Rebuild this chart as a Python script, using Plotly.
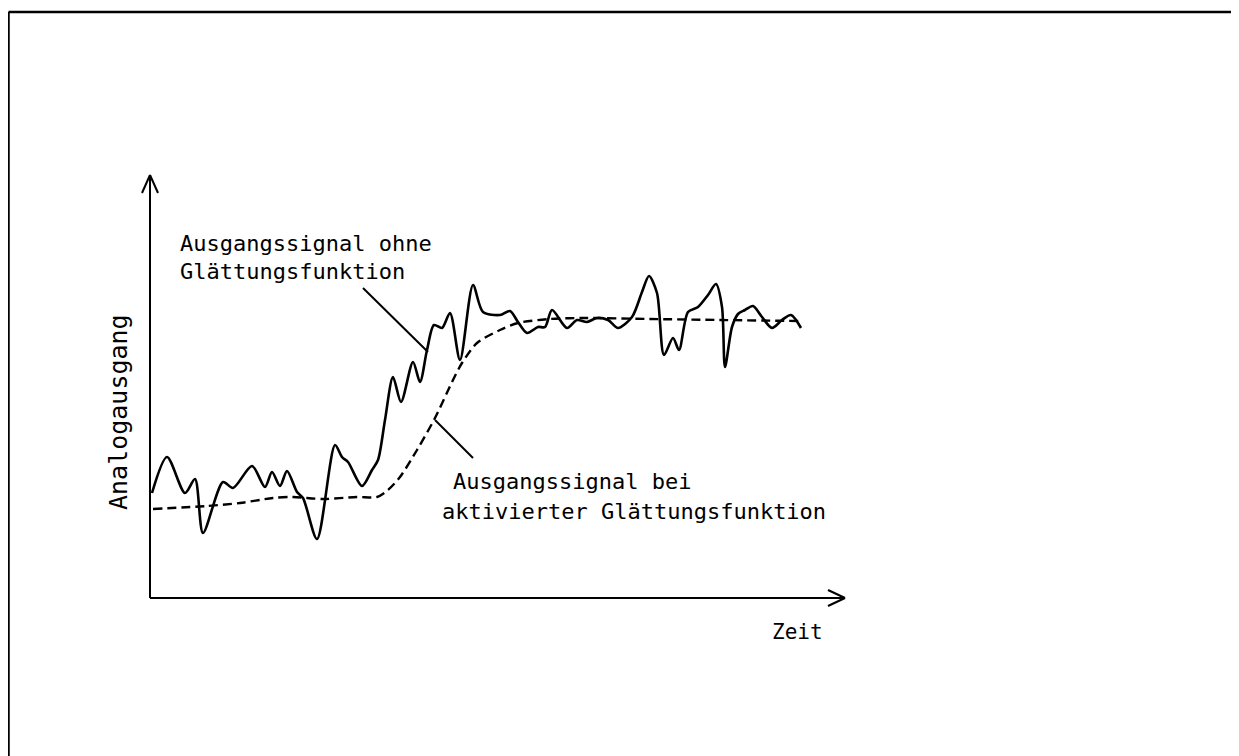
import plotly.graph_objects as go

# Raw signal (without smoothing)
t_raw = [2, 17, 35, 45, 53, 73, 83, 102, 115, 122, 130, 137, 147, 153, 167, 185, 192, 198,
         212, 222, 228, 235, 243, 251, 263, 270, 277, 284, 292, 300, 310, 323, 333, 350,
         360, 368, 377, 388, 395, 402, 417, 427, 437, 447, 458, 468, 482, 492, 499, 507,
         514, 523, 529, 538, 548, 558, 566, 572, 575, 582, 588, 595, 603, 612, 622, 632,
         641, 651]
v_raw = [105, 141, 105, 119, 65, 116, 110, 132, 111, 126, 112, 127, 106, 100, 59, 153, 141, 136,
         112, 128, 138, 178, 221, 196, 236, 216, 248, 273, 270, 285, 238, 313, 286, 283,
         287, 276, 265, 271, 271, 288, 270, 278, 276, 280, 278, 270, 281, 306, 322, 305,
         243, 260, 248, 286, 291, 303, 314, 291, 231, 271, 284, 288, 292, 281, 270, 278,
         283, 270]

# Smoothed signal
t_smooth = [3, 57, 90, 123, 143, 173, 207, 227, 238, 250, 267, 285, 303, 312, 327, 350, 368,
            400, 433, 500, 570, 650]
v_smooth = [89, 92, 95, 100, 101, 99, 101, 101, 108, 121, 148, 180, 218, 235, 255, 268, 275,
            279, 280, 279, 278, 277]

x_axis_len = 695
y_axis_len = 423

FONT = "DejaVu Sans Mono, monospace"

fig = go.Figure()
fig.add_trace(go.Scatter(x=t_smooth, y=v_smooth, mode="lines",
                         line=dict(color="black", width=2.4, dash="9px,5px", shape="spline", smoothing=0.8),
                         hoverinfo="skip", showlegend=False))
fig.add_trace(go.Scatter(x=t_raw, y=v_raw, mode="lines",
                         line=dict(color="black", width=2.6, shape="spline", smoothing=0.8),
                         hoverinfo="skip", showlegend=False))

shapes = []
def seg(x0, y0, x1, y1, w=2):
    shapes.append(dict(type="line", xref="x", yref="y", x0=x0, y0=y0, x1=x1, y1=y1,
                       line=dict(color="black", width=w)))

# axes with open arrowheads
seg(0, 0, x_axis_len, 0)
seg(x_axis_len - 17, 8, x_axis_len, 0)
seg(x_axis_len - 17, -8, x_axis_len, 0)
seg(0, 0, 0, y_axis_len)
seg(-8, y_axis_len - 18, 0, y_axis_len)
seg(8, y_axis_len - 18, 0, y_axis_len)
# leader lines
seg(213, 310, 278, 246)
seg(285, 178, 323, 140)

# frame (top and left)
W, H = 1231, 748
shapes.append(dict(type="line", xref="paper", yref="paper", x0=0.5 / W, y0=1 - 4 / H, x1=1, y1=1 - 4 / H,
                   line=dict(color="black", width=2.5)))
shapes.append(dict(type="line", xref="paper", yref="paper", x0=0.5 / W, y0=1 - 4 / H, x1=0.5 / W, y1=0,
                   line=dict(color="black", width=2.5)))

ann = []
def txt(x, y, s, angle=0, xanchor="left", size=22):
    ann.append(dict(x=x, y=y, xref="x", yref="y", text=s, showarrow=False, xanchor=xanchor,
                    yanchor="middle", textangle=angle, font=dict(family=FONT, size=size, color="black")))

txt(28, 355, "Ausgangssignal ohne")
txt(28, 327, "Glättungsfunktion")
txt(301, 117, "Ausgangssignal bei")
txt(290, 87, "aktivierter Glättungsfunktion")
txt(620, -34, "Zeit", size=21)
txt(-32, 186, "Analogausgang", angle=-90, xanchor="center", size=25)

fig.update_layout(
    width=W, height=H, margin=dict(l=0, r=0, t=0, b=0),
    paper_bgcolor="white", plot_bgcolor="white",
    xaxis=dict(range=[-142, 1089], visible=False, fixedrange=True),
    yaxis=dict(range=[-158, 590], visible=False, fixedrange=True),
    shapes=shapes, annotations=ann, showlegend=False,
)
fig.write_html("out.html")
